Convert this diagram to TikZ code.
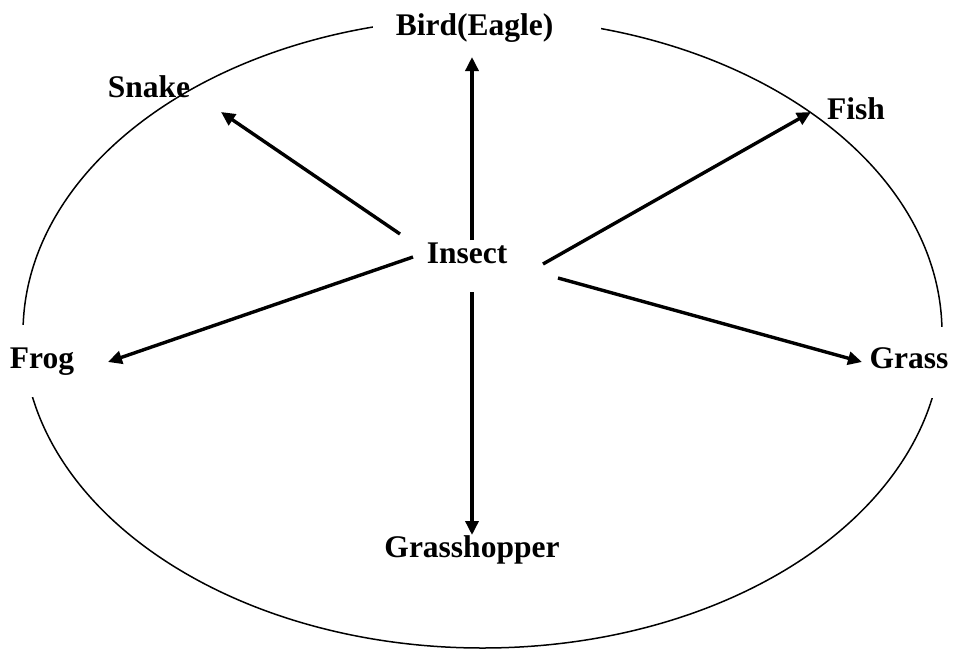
\documentclass[tikz,border=0pt]{standalone}
\usepackage{fontspec}
\setmainfont{Liberation Serif}
\usetikzlibrary{arrows.meta}
\tikzset{
  lbl/.style={font=\fontsize{31.5}{36}\selectfont\bfseries, inner sep=0pt, anchor=base},
  backed/.style={fill=white},
  arr/.style={line width=3.4pt, -{Triangle[length=14pt,width=13pt]}},
  rim/.style={line width=1.5pt}
}
\begin{document}
\begin{tikzpicture}[x=1pt,y=-1pt]
\useasboundingbox (0,0) rectangle (953,649);
\draw[rim] (482.5,333) ellipse [x radius=459.5, y radius=315];
% labels
\node[lbl, backed, text height=30pt, text depth=8pt] (bird) at (487,35) {\hspace*{23pt}Bird(Eagle)\hspace*{48pt}};
\node[lbl] (snake) at (149,97) {Snake};
\node[lbl] (fish) at (856,119) {Fish};
\node[lbl, backed, text height=43pt, text depth=29pt, inner xsep=6pt] (frog) at (42,368) {Frog};
\node[lbl, backed, text height=41pt, text depth=30pt, inner xsep=4pt] (grass) at (909,368) {Grass};
\node[lbl] (insect) at (467,263) {Insect};
\node[lbl] (hopper) at (472,557) {Grasshopper};
% arrow ends
\coordinate (upS) at (472,240);
\coordinate (upE) at (472,57);
\coordinate (dnS) at (472,292);
\coordinate (dnE) at (472,535);
\coordinate (snS) at (400,234);
\coordinate (snE) at (221,112);
\coordinate (frS) at (413,257);
\coordinate (frE) at (108,362);
\coordinate (fiS) at (543,264);
\coordinate (fiE) at (811,112);
\coordinate (grS) at (558,278);
\coordinate (grE) at (862,362);
\draw[arr] (upS) -- (upE);
\draw[arr] (dnS) -- (dnE);
\draw[arr] (snS) -- (snE);
\draw[arr] (frS) -- (frE);
\draw[arr] (fiS) -- (fiE);
\draw[arr] (grS) -- (grE);
\end{tikzpicture}
\end{document}
